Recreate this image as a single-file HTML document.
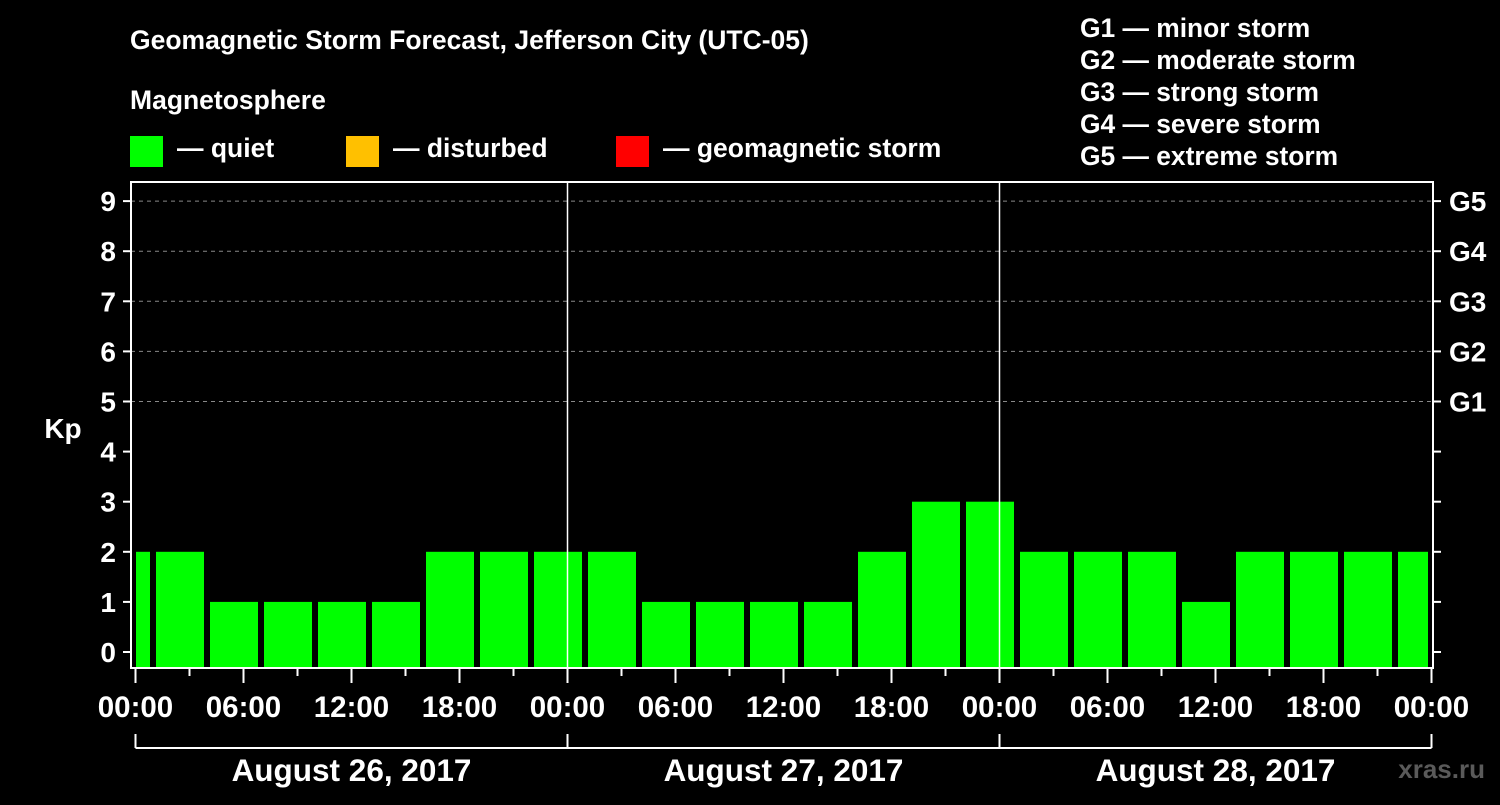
<!DOCTYPE html>
<html><head><meta charset="utf-8"><style>
body{margin:0;background:#000;width:1500px;height:800px;overflow:hidden}
svg text{font-family:"Liberation Sans",sans-serif;font-weight:bold;fill:#fff}
</style></head><body>
<svg id="c" width="1500" height="800" xmlns="http://www.w3.org/2000/svg">
<text x="130" y="49" font-size="26.5">Geomagnetic Storm Forecast, Jefferson City (UTC-05)</text>
<text x="130" y="109" font-size="26.5">Magnetosphere</text>
<rect x="130" y="136" width="33" height="31" fill="#00ff00"/>
<text x="177" y="157" font-size="26.5">— quiet</text>
<rect x="346" y="136" width="33" height="31" fill="#ffc000"/>
<text x="393" y="157" font-size="26.5">— disturbed</text>
<rect x="616" y="136" width="33" height="31" fill="#ff0000"/>
<text x="663" y="157" font-size="26.5">— geomagnetic storm</text>
<g font-size="26.4">
<text x="1080" y="37">G1 — minor storm</text>
<text x="1080" y="69">G2 — moderate storm</text>
<text x="1080" y="101">G3 — strong storm</text>
<text x="1080" y="133">G4 — severe storm</text>
<text x="1080" y="165">G5 — extreme storm</text>
</g>
<text x="63" y="438" font-size="28" text-anchor="middle">Kp</text>
<text x="1485" y="778" font-size="26" text-anchor="end" style="fill:#5a5a5a">xras.ru</text>
<g id="plot"></g>
</svg>
<script>
const kpValues=[2,2,1,1,1,1,2,2,2,2,1,1,1,1,2,3,3,2,2,2,1,2,2,2,2];
const yTicks=[0,1,2,3,4,5,6,7,8,9];
const gLabels=["G1","G2","G3","G4","G5"];
const gLevels=[5,6,7,8,9];
const xLabels=["00:00","06:00","12:00","18:00","00:00","06:00","12:00","18:00","00:00","06:00","12:00","18:00","00:00"];
const dates=["August 26, 2017","August 27, 2017","August 28, 2017"];
const NS="http://www.w3.org/2000/svg";
const g=document.getElementById('plot');
const L=131,R=1433,T=182,B=668;
const x=h=>135.5+h*18;
const y=v=>652-v*50.1;
function el(t,a){const e=document.createElementNS(NS,t);for(const k in a)e.setAttribute(k,a[k]);g.appendChild(e);return e;}
gLevels.forEach((v,i)=>{
 const l=el('line',{x1:L,x2:R,y1:y(v),y2:y(v),stroke:'#888','stroke-dasharray':'4,4'});
 
 
 const t=el('text',{x:1449,y:y(v)+10,'font-size':28});t.textContent=gLabels[i];
 
 
});
kpValues.forEach((v,i)=>{
 let s=x(-2+3*i)+2.5,e=x(1+3*i)-3.5;
 s=Math.max(s,x(0)+0.5);e=Math.min(e,x(72)-3.5);
 const r=el('rect',{x:s,y:y(v),width:e-s,height:B-y(v),fill:'#00ff00'});
 
 
});
[24,48].forEach(h=>{const l=el('line',{x1:x(h),x2:x(h),y1:T,y2:B,stroke:'#fff','stroke-width':1.5});
 
 });
const f=el('rect',{x:L,y:T,width:R-L,height:B-T,fill:'none',stroke:'#fff','stroke-width':2});


yTicks.forEach(v=>{
 el('line',{x1:L-8,x2:L,y1:y(v),y2:y(v),stroke:'#fff','stroke-width':2});
 el('line',{x1:R,x2:R+8,y1:y(v),y2:y(v),stroke:'#fff','stroke-width':2});
 const t=el('text',{x:116,y:y(v)+10,'font-size':28,'text-anchor':'end'});t.textContent=v;
 
 
});
for(let h=0;h<=72;h+=3){el('line',{x1:x(h),x2:x(h),y1:B,y2:B+(h%6?8:15),stroke:'#fff','stroke-width':2});}
xLabels.forEach((s,i)=>{const t=el('text',{x:x(i*6),y:717,'font-size':29.5,'text-anchor':'middle'});t.textContent=s;
 
 });
el('line',{x1:x(0),x2:x(72),y1:748,y2:748,stroke:'#fff','stroke-width':2});
for(let h=0;h<=72;h+=24)el('line',{x1:x(h),x2:x(h),y1:734,y2:748,stroke:'#fff','stroke-width':2});
dates.forEach((d,i)=>{const t=el('text',{x:x(i*24+12),y:781,'font-size':31.5,'text-anchor':'middle'});t.textContent=d;
 
 });
</script>
</body></html>
